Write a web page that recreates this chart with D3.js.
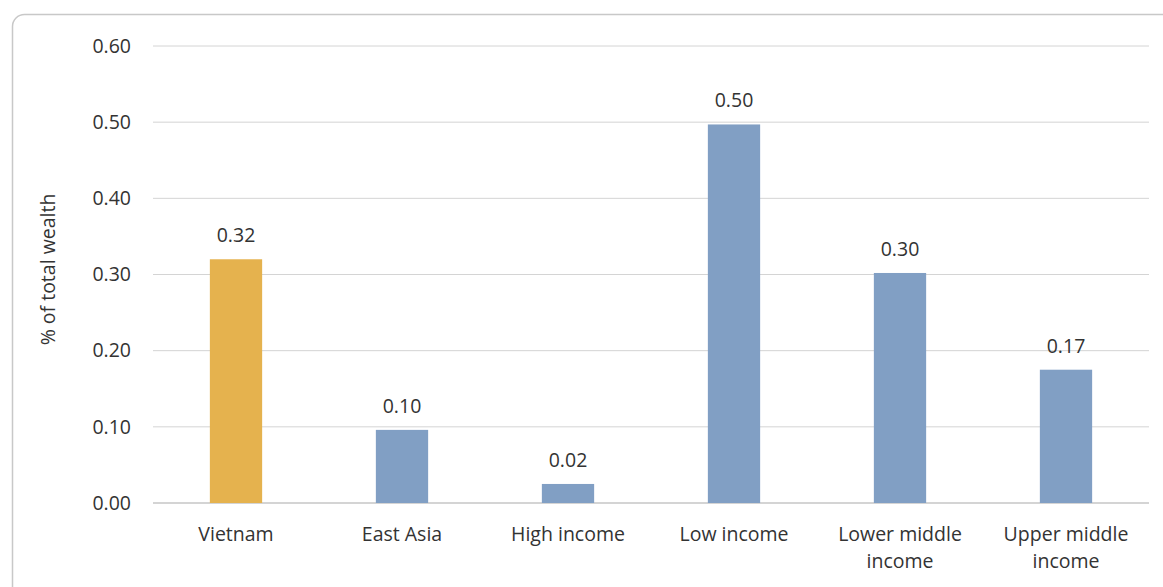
<!DOCTYPE html>
<html><head><meta charset="utf-8">
<script src="https://cdn.jsdelivr.net/npm/d3@7"></script>
<style>body{margin:0;background:#fff;}svg{display:block;font-family:"Open Sans",sans-serif;}</style>
</head><body>
<svg id="c" width="1163" height="587"></svg>
<script>
const categories = [["Vietnam"],["East Asia"],["High income"],["Low income"],["Lower middle","income"],["Upper middle","income"]];
const values = [0.32, 0.096, 0.025, 0.497, 0.302, 0.175];
const labels = ["0.32","0.10","0.02","0.50","0.30","0.17"];
const yTicks = [0, 0.1, 0.2, 0.3, 0.4, 0.5, 0.6];
const colors = ["#E5B24E","#819FC4","#819FC4","#819FC4","#819FC4","#819FC4"];

(function(){
const FS = 19.5;
const svg = d3.select("#c");
svg.append("rect").attr("x",12.5).attr("y",14.5).attr("width",1200).attr("height",620)
  .attr("rx",12).attr("fill","none").attr("stroke","#c8c8c8").attr("stroke-width",1.5);

const pL=153, pR=1149, pT=46, pB=503;
const x = d3.scaleBand().domain(d3.range(categories.length)).range([pL,pR]).paddingInner(0.685).paddingOuter(0.3425);
const y = d3.scaleLinear().domain([0,0.6]).range([pB,pT]);

const g = svg.append("g");
g.selectAll("line.grid").data(yTicks).join("line")
  .attr("x1",pL).attr("x2",pR).attr("y1",d=>y(d)).attr("y2",d=>y(d))
  .attr("stroke","#d4d4d4").attr("stroke-width",d=>d===0?2:1);

const yAxis = svg.append("g").attr("transform",`translate(${pL},0)`)
  .call(d3.axisLeft(y).tickValues(yTicks).tickFormat(d3.format(".2f")).tickSize(0).tickPadding(22));
yAxis.select(".domain").remove();
yAxis.selectAll("text").attr("font-size",FS).attr("fill","#333").attr("font-family","Open Sans");

g.selectAll("rect.bar").data(values).join("rect")
  .attr("x",(d,i)=>x(i)).attr("width",x.bandwidth())
  .attr("y",d=>y(d)).attr("height",d=>y(0)-y(d)).attr("fill",(d,i)=>colors[i]);

g.selectAll("text.val").data(values).join("text")
  .attr("x",(d,i)=>x(i)+x.bandwidth()/2).attr("y",d=>y(d)-17)
  .attr("text-anchor","middle").attr("font-size",FS).attr("fill","#333").text((d,i)=>labels[i]);

const cat = g.selectAll("text.cat").data(categories).join("text")
  .attr("x",(d,i)=>x(i)+x.bandwidth()/2).attr("y",541)
  .attr("text-anchor","middle").attr("font-size",FS).attr("fill","#333");
cat.selectAll("tspan").data(d=>d).join("tspan")
  .attr("x",function(){return this.parentNode.getAttribute("x");})
  .attr("dy",(d,i)=>i===0?0:27).text(d=>d);

svg.append("text").attr("transform",`translate(55,${(pT+pB)/2 - 5}) rotate(-90)`)
  .attr("text-anchor","middle").attr("font-size",FS).attr("fill","#333").text("%  of total wealth");
})();
</script>
</body></html>
